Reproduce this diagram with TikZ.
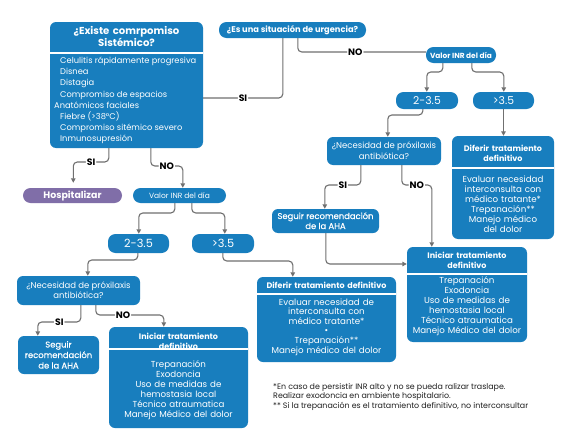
\documentclass[tikz,border=0pt]{standalone}
\usepackage{fontspec}
\setmainfont{Poppins}
\newfontfamily\pmedfont[FakeBold=0.5]{Poppins}
\usetikzlibrary{arrows.meta}
\definecolor{boxblue}{RGB}{24,126,190}
\definecolor{hospurple}{RGB}{128,110,168}
\definecolor{linegray}{RGB}{112,112,112}
\begin{document}
\begin{tikzpicture}[x=1pt,y=-1pt,
  bbox/.style={fill=boxblue, rounded corners=6pt, inner sep=0pt, text=white, align=center},
  pill/.style={bbox, rounded corners=7.5pt},
  divl/.style={draw=white, line width=1.3pt},
  txt/.style={text=white, align=center, inner sep=0pt},
  ln/.style={text=white, inner sep=0pt, anchor=base},
  hd/.style={font=\fontsize{10.1}{12.3}\selectfont\bfseries},
  hds/.style={font=\fontsize{8}{10}\selectfont\bfseries},
  bd/.style={font=\fontsize{8.3}{11.2}\selectfont},
  bds/.style={font=\fontsize{8.7}{10}\selectfont},
  nec/.style={ln, font=\fontsize{8.5}{10.5}\selectfont},
  seg/.style={ln, font=\fontsize{8.4}{10}\pmedfont},
  conn/.style={draw=linegray, line width=1.1pt, rounded corners=4pt},
  arr/.style={conn, -{Triangle[length=4.5pt,width=4.5pt]}},
  lab/.style={fill=white, inner sep=1pt, font=\fontsize{9.3}{10}\selectfont\bfseries, text=black}]
\useasboundingbox[fill=white] (0,0) rectangle (566,434);

% ---------- boxes ----------
\node[bbox, minimum width=153pt, minimum height=126pt] (exist) at (126.5,85) {};
\node[txt, hd, text width=150pt] (existh) at (126.5,36.5) {¿Existe comrpomiso\\Sistémico?};
\draw[divl] (exist.west |- 0,53) -- (exist.east |- 0,53);
\node[txt, bd, align=left, anchor=west] (existb) at (54,100.5) {\hspace*{6pt}Celulitis rápidamente progresiva\\
\hspace*{6pt}Disnea\\
\hspace*{6pt}Distagia\\
\hspace*{6pt}Compromiso de espacios\\
Anatómicos faciales\\
\hspace*{6pt}Fiebre (>38°C)\\
\hspace*{6pt}Compromiso sitémico severo\\
\hspace*{6pt}Inmunosupresión};

\node[pill, minimum width=147pt, minimum height=16pt, font=\fontsize{8.3}{9}\selectfont\bfseries] (urg) at (292.5,30) {¿Es una situación de urgencia?};
\node[pill, minimum width=70pt, minimum height=16pt, font=\fontsize{7.4}{8}\selectfont\bfseries] (valR) at (461,55) {Valor INR del día};
\node[pill, minimum width=62pt, minimum height=17pt, font=\fontsize{10.8}{11}\selectfont] (r235) at (427,100.5) {2-3.5};
\node[pill, minimum width=61pt, minimum height=17pt, font=\fontsize{10.8}{11}\selectfont] (r35) at (503.5,100.5) {>3.5};

\node[bbox, minimum width=114pt, minimum height=28pt] (necR) at (384,151) {};
\node[nec] (necR1) at (384,148.8) {¿Necesidad de próxilaxis};
\node[nec] (necR2) at (384,159.3) {antibiótica?};

\node[bbox, minimum width=102pt, minimum height=103pt] (difR) at (503,187.5) {};
\node[txt, hds, text width=100pt] (difRh) at (503,153) {Diferir tratamiento\\definitivo};
\draw[divl] (difR.west |- 0,168) -- (difR.east |- 0,168);
\node[txt, bds, text width=100pt] (difRb) at (503,204) {Evaluar necesidad\\interconsulta con\\médico tratante*\\Trepanación**\\Manejo médico\\del dolor};

\node[bbox, minimum width=107pt, minimum height=24pt] (segR) at (325.5,221) {};
\node[seg] (segR1) at (325.5,219) {Seguir recomendación};
\node[seg] (segR2) at (325.5,229) {de la AHA};

\node[bbox, minimum width=120pt, minimum height=95pt] (iniR) at (467,294.5) {};
\node[txt, hds, text width=118pt] (iniRh) at (467,260) {Iniciar tratamiento\\definitivo};
\draw[divl] (iniR.west |- 0,274) -- (iniR.east |- 0,274);
\node[txt, bds, text width=118pt] (iniRb) at (467,306.5) {Trepanación\\Exodoncia\\Uso de medidas de\\hemostasia local\\Técnico atraumatica\\Manejo Médico del dolor};

\node[pill, fill=hospurple, minimum width=99pt, minimum height=15pt, font=\fontsize{9.4}{10}\selectfont\bfseries] (hosp) at (72.5,195.5) {Hospitalizar};
\node[pill, minimum width=93pt, minimum height=15pt, font=\fontsize{7.5}{8}\selectfont] (valL) at (179.5,195.5) {Valor INR del día};
\node[pill, minimum width=61pt, minimum height=19pt, font=\fontsize{11.3}{12}\selectfont] (l235) at (138.5,243.5) {2-3.5};
\node[pill, minimum width=62pt, minimum height=19pt, font=\fontsize{11.3}{12}\selectfont] (l35) at (223,243.5) {>3.5};

\node[bbox, minimum width=123pt, minimum height=29pt] (necL) at (78.5,290.5) {};
\node[nec] (necL1) at (78.5,288.3) {¿Necesidad de próxilaxis};
\node[nec] (necL2) at (78.5,298.8) {antibiótica?};

\node[bbox, minimum width=81pt, minimum height=38pt] (segL) at (58.5,355) {};
\node[seg] (segL1) at (58.5,347.5) {Seguir};
\node[seg] (segL2) at (58.5,358) {recomendación};
\node[seg] (segL3) at (58.5,368.5) {de la AHA};

\node[bbox, minimum width=139pt, minimum height=101pt] (iniL) at (178.5,377.5) {};
\node[txt, hds, text width=137pt] (iniLh) at (178.5,341) {Iniciar tratamiento\\definitivo};
\draw[divl] (iniL.west |- 0,349) -- (iniL.east |- 0,349);
\node[txt, bds, text width=137pt] (iniLb) at (178.5,390) {Trepanación\\Exodoncia\\Uso de medidas de\\hemostasia local\\Técnico atraumatica\\Manejo Médico del dolor};

\node[bbox, minimum width=139pt, minimum height=85pt] (difL) at (326.5,319.5) {};
\node[txt, hds, text width=137pt] (difLh) at (326.5,285.5) {Diferir tratamiento definitivo};
\draw[divl] (difL.west |- 0,294) -- (difL.east |- 0,294);
\node[txt, text width=137pt, font=\fontsize{8.7}{9.6}\selectfont] (difLb) at (326.5,327) {Evaluar necesidad de\\interconsulta con\\médico tratante*\\•\\Trepanación**\\Manejo médico del dolor};

\node[inner sep=0pt, anchor=north west, align=left, text=black!88, font=\fontsize{7.9}{9.6}\selectfont] (note) at (273,383) {*En caso de persistir INR alto y no se pueda ralizar traslape.\\Realizar exodoncia en ambiente hospitalario.\\** Si la trepanación es el tratamiento definitivo, no interconsultar};

% ---------- connectors ----------
\coordinate (a1) at ([xshift=64pt]urg.south west);
\draw[conn] (a1) -- (a1 |- 0,98) -- node[lab]{SI} (exist.east |- 0,98);
\coordinate (a2) at ([xshift=79pt]urg.south west);
\draw[conn] (a2) -- (a2 |- 0,52) -- node[lab, pos=0.45]{NO} (valR.west |- 0,52);

\coordinate (b1) at ([xshift=17pt]valR.south west);
\coordinate (b1e) at ([xshift=31pt]r235.north west);
\draw[arr] (b1) -- (b1 |- 0,72) -- (b1e |- 0,72) -- (b1e);
\coordinate (b2) at ([xshift=46pt]valR.south west);
\coordinate (b2e) at ([xshift=31pt]r35.north west);
\draw[arr] (b2) -- (b2 |- 0,72) -- (b2e |- 0,72) -- (b2e);

\coordinate (c1) at ([xshift=27pt]r235.south west);
\coordinate (c1e) at ([xshift=61pt]necR.north west);
\draw[arr] (c1) -- (c1 |- 0,115) -- (c1e |- 0,115) -- (c1e);
\draw[arr] (r35.south) -- (r35.south |- difR.north);

\coordinate (d1) at ([xshift=34pt]necR.south west);
\coordinate (d1e) at ([xshift=53pt]segR.north west);
\draw[arr] (d1) -- (d1 |- 0,185) -- node[lab]{SI} (d1e |- 0,185) -- (d1e);
\coordinate (d2) at ([xshift=75pt]necR.south west);
\coordinate (d2e) at ([xshift=25pt]iniR.north west);
\draw[arr] (d2) -- (d2 |- 0,185) -- node[lab]{NO} (d2e |- 0,185) -- (d2e);
\coordinate (d3) at ([xshift=54pt]segR.south west);
\draw[arr] (d3) -- (d3 |- 0,264) -- (iniR.west |- 0,264);

\coordinate (e1) at ([xshift=59pt]exist.south west);
\coordinate (e1e) at ([xshift=50.5pt]hosp.north west);
\draw[arr, shorten >=5pt] (e1) -- (e1 |- 0,162) -- node[lab]{SI} (e1e |- 0,162) -- (e1e);
\coordinate (e2) at ([xshift=101pt]exist.south west);
\coordinate (e2e) at ([xshift=50pt]valL.north west);
\draw[arr] (e2) -- (e2 |- 0,166) -- node[lab]{NO} (e2e |- 0,166) -- (e2e);

\coordinate (f1) at ([xshift=42pt]valL.south west);
\coordinate (f1e) at ([xshift=31pt]l235.north west);
\draw[arr] (f1) -- (f1 |- 0,213) -- (f1e |- 0,213) -- (f1e);
\coordinate (f2) at ([xshift=59pt]valL.south west);
\coordinate (f2e) at ([xshift=33pt]l35.north west);
\draw[arr] (f2) -- (f2 |- 0,213) -- (f2e |- 0,213) -- (f2e);

\coordinate (g1) at ([xshift=30pt]l235.south west);
\coordinate (g1e) at ([xshift=71pt]necL.north west);
\draw[arr] (g1) -- (g1 |- 0,260) -- (g1e |- 0,260) -- (g1e);
\coordinate (g2) at ([xshift=31pt]l35.south west);
\coordinate (g2e) at ([xshift=36pt]difL.north west);
\draw[arr] (g2) -- (g2 |- 0,261) -- (g2e |- 0,261) -- (g2e);

\coordinate (h1) at ([xshift=64pt]necL.south west);
\coordinate (h1e) at ([xshift=20pt]segL.north west);
\draw[arr] (h1) -- (h1 |- 0,322) -- node[lab]{SI} (h1e |- 0,322) -- (h1e);
\coordinate (h2) at ([xshift=79pt]necL.south west);
\coordinate (h2e) at ([xshift=55pt]iniL.north west);
\draw[arr] (h2) -- (h2 |- 0,315) -- node[lab, pos=0.4]{NO} (h2e |- 0,315) -- (h2e);
\end{tikzpicture}
\end{document}
